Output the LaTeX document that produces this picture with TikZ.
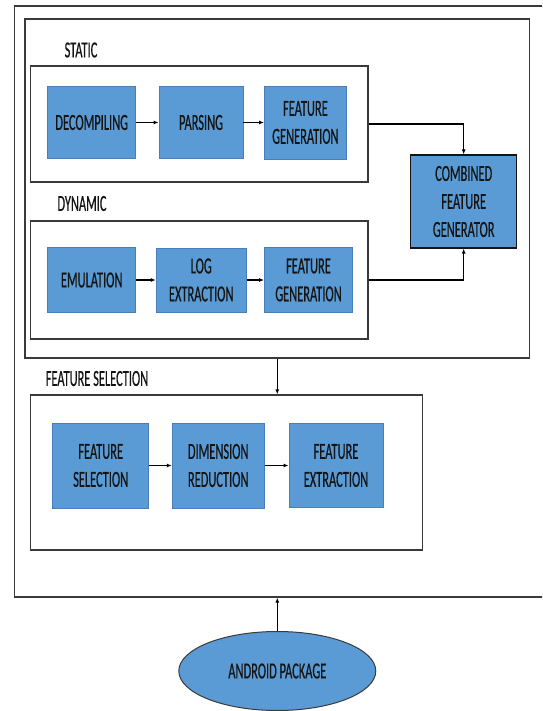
\documentclass[tikz,border=0pt]{standalone}
\usepackage{fontspec}
\setmainfont{Carlito}[FakeStretch=0.54,FakeBold=0.5]
\usetikzlibrary{arrows.meta,shapes.geometric}
\definecolor{boxblue}{HTML}{5B9BD5}
\definecolor{edgeblue}{HTML}{4A7EBB}
\definecolor{framegray}{HTML}{3A3A3A}
\definecolor{inkgray}{HTML}{141414}
\begin{document}
\begin{tikzpicture}[x=1pt,y=-1pt,>=Latex,
 blk/.style={draw=edgeblue,fill=boxblue,line width=0.8pt,align=center,inner sep=2pt,text=inkgray,font=\fontsize{23}{28}\selectfont},
 grp/.style={draw=framegray,line width=1.3pt,inner sep=0pt},
 lbl/.style={inner sep=0pt,text=inkgray,font=\fontsize{23}{28}\selectfont},
 a/.style={-{Latex[length=5pt,width=4pt]},line width=1.1pt,black}]
\useasboundingbox (0,0) rectangle (542,711);
\clip (0,0) rectangle (542,711);

\node[grp,minimum width=555.5pt,minimum height=591pt] (out) at (292.25,301.5) {};
\node[grp,minimum width=504.5pt,minimum height=339pt] (in) at (277.25,188.5) {};
\node[grp,minimum width=337.6pt,minimum height=116pt] (st) at (199.2,124) {};
\node[grp,minimum width=337.6pt,minimum height=118pt] (dy) at (199.2,280) {};
\node[grp,minimum width=392pt,minimum height=155pt] (fs) at (226.4,472.5) {};

\node[lbl] (lst) at (81,50) {STATIC};
\node[lbl] (ldy) at (82,203.5) {DYNAMIC};
\node[lbl] (lfs) at (97,378.5) {FEATURE SELECTION};

\node[blk,minimum width=88pt,minimum height=72pt] (a1) at (91.7,122.5) {DECOMPILING};
\node[blk,minimum width=84pt,minimum height=72pt] (a2) at (201,122.5) {PARSING};
\node[blk,minimum width=82pt,minimum height=73pt] (a3) at (305.4,122.5) {FEATURE\\GENERATION};
\draw[a] (a1)--(a2); \draw[a] (a2)--(a3);

\node[blk,minimum width=88pt,minimum height=65pt] (b1) at (91.7,280) {EMULATION};
\node[blk,minimum width=90pt,minimum height=64pt] (b2) at (201.2,280) {LOG\\EXTRACTION};
\node[blk,minimum width=88pt,minimum height=65pt] (b3) at (308.5,280) {FEATURE\\GENERATION};
\draw[a] (b1)--(b2); \draw[a] (b2)--(b3);

\node[blk,draw=inkgray,line width=1.3pt,minimum width=106pt,minimum height=93pt] (comb) at (463.7,201.5) {COMBINED\\FEATURE\\GENERATOR};
\draw[a] (st.east) -| (comb.north);
\draw[a] (dy.east) -| (comb.south);

\node[blk,minimum width=96pt,minimum height=85pt] (c1) at (100.7,465.5) {FEATURE\\SELECTION};
\node[blk,minimum width=92pt,minimum height=85pt] (c2) at (218.2,465.5) {DIMENSION\\REDUCTION};
\node[blk,minimum width=94pt,minimum height=84pt] (c3) at (336,465.5) {FEATURE\\EXTRACTION};
\draw[a] (c1)--(c2); \draw[a] (c2)--(c3);
\draw[a] (in.south) -- (in.south |- fs.north);

\node[blk,ellipse,draw=framegray,line width=1pt,minimum width=197pt,minimum height=79pt] (apk) at (277.3,671) {ANDROID PACKAGE};
\draw[a] (apk.north) -- (apk.north |- out.south);
\end{tikzpicture}
\end{document}
